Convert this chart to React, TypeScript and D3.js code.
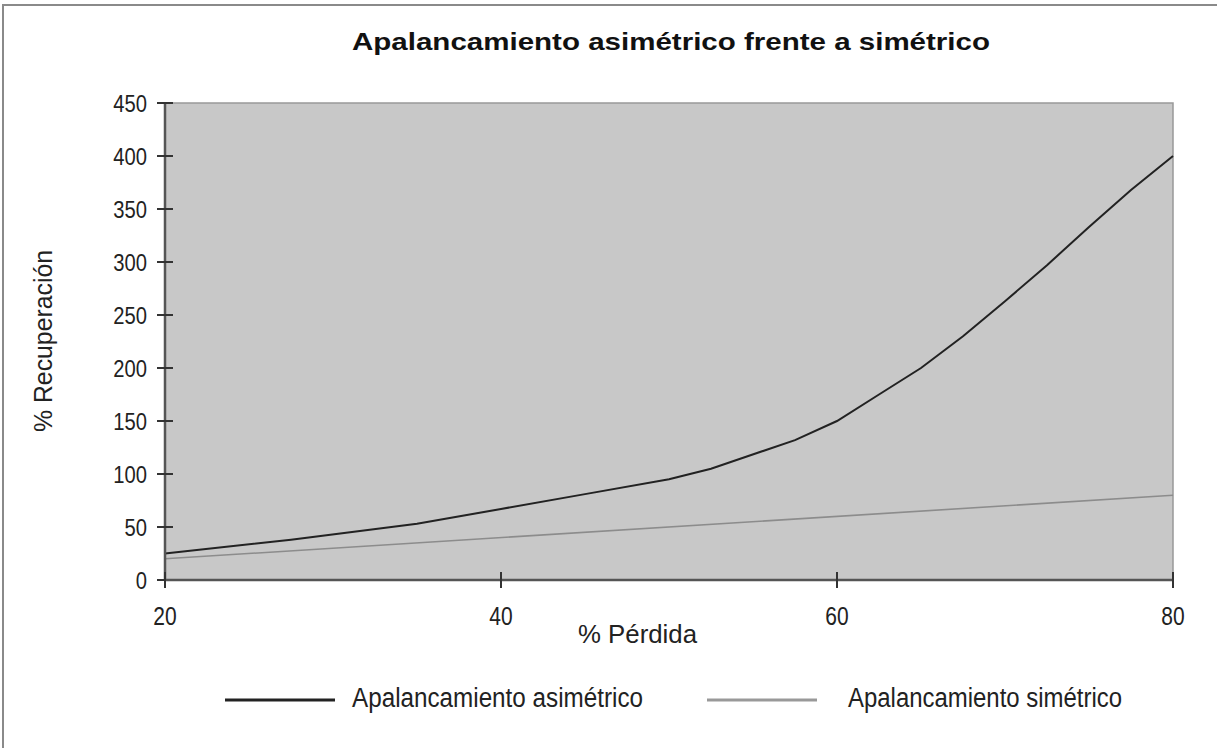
import React from "react";
import * as d3 from "d3";

// % loss on the x axis
const lossAsym = [20, 27.5, 35, 40, 45, 50, 52.5, 57.5, 60, 62.5, 65, 67.5, 70, 72.5, 75, 77.5, 80];
// % recovery required with asymmetric leverage
const recoveryAsym = [25, 38, 53, 67, 81, 95, 105, 132, 150, 175, 200, 230, 263, 297, 333, 368, 400];
// symmetric leverage: recovery equals loss
const lossSym = [20, 80];
const recoverySym = [20, 80];

const xTicks = [20, 40, 60, 80];
const yTicks = [0, 50, 100, 150, 200, 250, 300, 350, 400, 450];

const title = "Apalancamiento asimétrico frente a simétrico";
const xLabel = "% Pérdida";
const yLabel = "% Recuperación";
const seriesNames = ["Apalancamiento asimétrico", "Apalancamiento simétrico"];

const W = 1217;
const H = 748;
const left = 165, right = 1173, top = 103, bottom = 580;
const FONT = "'Liberation Sans', Arial, sans-serif";

// Horizontally squeezed text, giving a condensed look
function Narrow({ x, y, anchor = "start", size = 22, sx = 0.82, rotate = 0, children }: any) {
  return (
    <text
      transform={`translate(${x},${y}) rotate(${rotate}) scale(${sx},1)`}
      textAnchor={anchor}
      fontSize={size}
      fill="#222"
    >
      {children}
    </text>
  );
}

export default function App() {
  const x = d3.scaleLinear().domain([20, 80]).range([left, right]);
  const y = d3.scaleLinear().domain([0, 450]).range([bottom, top]);
  const line = d3.line<[number, number]>().x((d) => x(d[0])).y((d) => y(d[1]));
  const asym = lossAsym.map((v, i) => [v, recoveryAsym[i]] as [number, number]);
  const sym = lossSym.map((v, i) => [v, recoverySym[i]] as [number, number]);

  return (
    <svg
      width={W}
      height={H}
      style={{ position: "absolute", left: 0, top: 0, background: "#fff" }}
      fontFamily={FONT}
    >
      {/* outer frame */}
      <rect x={3} y={5} width={W + 10} height={H + 10} fill="none" stroke="#8a8a8a" strokeWidth={2} />

      <text x={671} y={50} textAnchor="middle" fontSize={24} fontWeight="bold" fill="#111"
        textLength={638} lengthAdjust="spacingAndGlyphs">
        {title}
      </text>

      {/* plot background */}
      <rect x={left} y={top} width={right - left} height={bottom - top} fill="#c8c8c8" stroke="#999" strokeWidth={1.5} />

      {/* series */}
      <path d={line(sym) || ""} fill="none" stroke="#8c8c8c" strokeWidth={1.6} />
      <path d={line(asym) || ""} fill="none" stroke="#222" strokeWidth={2} />

      {/* y axis */}
      <line x1={left} x2={left} y1={top} y2={bottom} stroke="#555" strokeWidth={2.5} />
      {yTicks.map((t) => (
        <g key={t}>
          <line x1={left - 8} x2={left + 8} y1={y(t)} y2={y(t)} stroke="#333" strokeWidth={2} />
          <Narrow x={147} y={y(t) + 8.5} anchor="end" size={23.5} sx={0.86}>{t}</Narrow>
        </g>
      ))}

      {/* x axis */}
      <line x1={left} x2={right} y1={bottom} y2={bottom} stroke="#555" strokeWidth={2.5} />
      {xTicks.map((t) => (
        <g key={t}>
          <line x1={x(t)} x2={x(t)} y1={bottom - 8} y2={bottom + 8} stroke="#333" strokeWidth={2} />
          <Narrow x={x(t)} y={625} anchor="middle" size={25} sx={0.84}>{t}</Narrow>
        </g>
      ))}

      <text x={578} y={643} fontSize={26} fill="#222" textLength={119} lengthAdjust="spacingAndGlyphs">{xLabel}</text>
      <text transform="translate(52,432) rotate(-90)" fontSize={26} fill="#222" textLength={182} lengthAdjust="spacingAndGlyphs">{yLabel}</text>

      {/* legend */}
      <line x1={225} x2={335} y1={700} y2={700} stroke="#222" strokeWidth={3} />
      <text x={352} y={707} fontSize={27} fill="#222" textLength={291} lengthAdjust="spacingAndGlyphs">{seriesNames[0]}</text>
      <line x1={707} x2={817} y1={700} y2={700} stroke="#999" strokeWidth={3} />
      <text x={848} y={707} fontSize={27} fill="#222" textLength={274} lengthAdjust="spacingAndGlyphs">{seriesNames[1]}</text>
    </svg>
  );
}
